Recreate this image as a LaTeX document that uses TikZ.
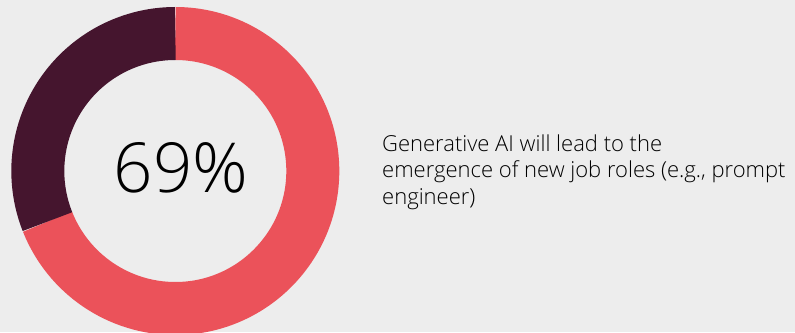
\documentclass[tikz,border=0pt]{standalone}
\usepackage{fontspec}
\setmainfont{Open Sans}[UprightFont = * Light]
\definecolor{bgc}{HTML}{EDEDED}
\definecolor{redc}{HTML}{EB525A}
\definecolor{darkc}{HTML}{45152E}
\tikzset{seg/.style={line width=53pt}}
\begin{document}
\begin{tikzpicture}[x=1pt,y=1pt]
\fill[bgc] (0,0) rectangle (795,332);
\useasboundingbox (0,0) rectangle (795,332);
\begin{scope}
\clip (0,0) rectangle (795,332);
\coordinate (c) at (175.3,161);
\draw[seg,redc] ([shift={(90:137.5)}]c) arc[start angle=90, end angle=-158.4, radius=137.5];
\draw[seg,darkc] ([shift={(90:137.5)}]c) arc[start angle=90, end angle=201.6, radius=137.5];
\end{scope}
\node[anchor=base, inner sep=0pt, font=\fontsize{69}{80}\selectfont] (pct) at (181,139) {69\%};
\node[anchor=north west, align=left, inner sep=0pt, font=\fontsize{22}{26.5}\selectfont] (lbl) at (382,197.7) {Generative AI will lead to the\\emergence of new job roles (e.g., prompt\\engineer)};
\end{tikzpicture}
\end{document}
